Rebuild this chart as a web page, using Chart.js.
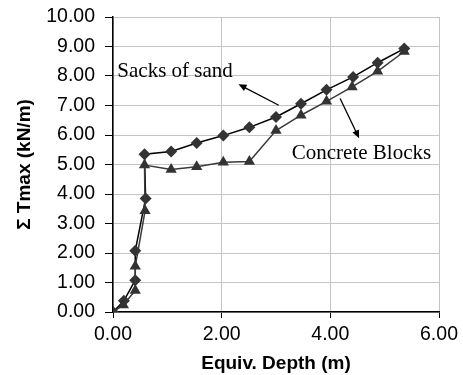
<!DOCTYPE html>
<html>
<head>
<meta charset="utf-8">
<script src="https://cdn.jsdelivr.net/npm/chart.js@4.4.1/dist/chart.umd.min.js"></script>
<style>
  html, body { margin: 0; padding: 0; background: #fff; }
  #wrap { width: 463px; height: 375px; position: relative; }
</style>
</head>
<body>
<div id="wrap"><canvas id="chart"></canvas></div>
<script>
// Equivalent depth (m) for each load step
const depthSacks = [0, 0.20, 0.41, 0.41, 0.60, 0.58, 1.07, 1.54, 2.03, 2.51, 3.00, 3.46, 3.93, 4.42, 4.87, 5.36];
const tmaxSacks = [0, 0.38, 1.08, 2.08, 3.85, 5.35, 5.44, 5.73, 5.98, 6.26, 6.61, 7.06, 7.53, 7.97, 8.45, 8.93];

const depthBlocks = [0, 0.19, 0.41, 0.41, 0.59, 0.58, 1.07, 1.54, 2.03, 2.51, 3.00, 3.46, 3.93, 4.40, 4.87, 5.36];
const tmaxBlocks = [0, 0.24, 0.73, 1.55, 3.43, 4.98, 4.83, 4.92, 5.08, 5.10, 6.15, 6.67, 7.14, 7.63, 8.16, 8.83];

const xTicks = [0, 2, 4, 6];
const yTicks = [0, 1, 2, 3, 4, 5, 6, 7, 8, 9, 10];

// labels with arrows, in data units
const notes = [
    { text: 'Sacks of sand', x: 0.08, y: 7.96, from: [3.05, 7.01], to: [2.31, 7.72] },
    { text: 'Concrete Blocks', x: 3.29, y: 5.18, from: [4.18, 7.24], to: [4.53, 5.89] }
];

const toPoints = (xs, ys) => xs.map((x, i) => ({ x: x, y: ys[i] }));

const notesPlugin = {
    id: 'notes',
    afterDatasetsDraw(chart) {
        const ctx = chart.ctx;
        const sx = chart.scales.x, sy = chart.scales.y;
        ctx.save();
        ctx.fillStyle = '#000';
        ctx.strokeStyle = '#000';
        ctx.font = '21px "Liberation Serif", "Times New Roman", serif';
        ctx.textBaseline = 'alphabetic';
        ctx.textAlign = 'left';
        notes.forEach(n => {
            ctx.fillText(n.text, sx.getPixelForValue(n.x), sy.getPixelForValue(n.y));
            const x1 = sx.getPixelForValue(n.from[0]), y1 = sy.getPixelForValue(n.from[1]);
            const x2 = sx.getPixelForValue(n.to[0]), y2 = sy.getPixelForValue(n.to[1]);
            const a = Math.atan2(y2 - y1, x2 - x1);
            ctx.lineWidth = 1.3;
            ctx.beginPath();
            ctx.moveTo(x1, y1);
            ctx.lineTo(x2 - 5 * Math.cos(a), y2 - 5 * Math.sin(a));
            ctx.stroke();
            ctx.beginPath();
            ctx.moveTo(x2, y2);
            ctx.lineTo(x2 - 8 * Math.cos(a) + 3.5 * Math.sin(a), y2 - 8 * Math.sin(a) - 3.5 * Math.cos(a));
            ctx.lineTo(x2 - 8 * Math.cos(a) - 3.5 * Math.sin(a), y2 - 8 * Math.sin(a) + 3.5 * Math.cos(a));
            ctx.closePath();
            ctx.fill();
        });
        ctx.restore();
    }
};

const tickFont = { family: '"Liberation Sans", Arial, sans-serif', size: 19.5 };
const titleFont = { family: '"Liberation Sans", Arial, sans-serif', size: 19, weight: 'bold' };

new Chart(document.getElementById('chart'), {
    type: 'scatter',
    data: {
        datasets: [
            {
                label: 'Concrete Blocks',
                data: toPoints(depthBlocks, tmaxBlocks),
                showLine: true,
                borderColor: '#3a3a3a',
                borderWidth: 1.5,
                backgroundColor: '#333',
                pointStyle: 'triangle',
                pointRadius: 6.5,
                pointBorderWidth: 0,
                pointHoverRadius: 6.5
            },
            {
                label: 'Sacks of sand',
                data: toPoints(depthSacks, tmaxSacks),
                showLine: true,
                borderColor: '#000',
                borderWidth: 1.5,
                backgroundColor: '#333',
                pointStyle: 'rectRot',
                pointRadius: 6,
                pointBorderWidth: 0,
                pointHoverRadius: 6
            }
        ]
    },
    options: {
        responsive: true,
        maintainAspectRatio: false,
        animation: false,
        layout: { padding: { top: 17, right: 24, left: 0, bottom: 0 } },
        plugins: {
            legend: { display: false },
            tooltip: { enabled: false }
        },
        scales: {
            x: {
                type: 'linear',
                min: 0,
                max: 6,
                afterBuildTicks: s => { s.ticks = xTicks.map(v => ({ value: v })); },
                afterFit: s => { s.height = 63; s.paddingLeft = 0; s.paddingRight = 0; },
                ticks: {
                    color: '#000',
                    font: tickFont,
                    padding: 5,
                    maxRotation: 0,
                    callback: v => v.toFixed(2)
                },
                grid: { color: '#c4c4c4', lineWidth: 1, tickLength: 6, tickColor: '#000' },
                border: { color: '#000', width: 1.5 },
                title: { display: true, text: 'Equiv. Depth (m)', color: '#000', font: titleFont, padding: { top: 0, bottom: 0 } }
            },
            y: {
                type: 'linear',
                min: 0,
                max: 10,
                afterBuildTicks: s => { s.ticks = yTicks.map(v => ({ value: v })); },
                afterFit: s => { s.width = 113; s.paddingTop = 0; s.paddingBottom = 0; },
                ticks: {
                    color: '#000',
                    font: tickFont,
                    padding: 10,
                    callback: v => v.toFixed(2)
                },
                grid: { color: '#c4c4c4', lineWidth: 1, tickLength: 8, tickColor: '#000' },
                border: { color: '#000', width: 1.5 },
                title: { display: true, text: 'Σ Tmax (kN/m)', color: '#000', font: titleFont, padding: { top: 13, bottom: 0 } }
            }
        }
    },
    plugins: [notesPlugin]
});
</script>
</body>
</html>
